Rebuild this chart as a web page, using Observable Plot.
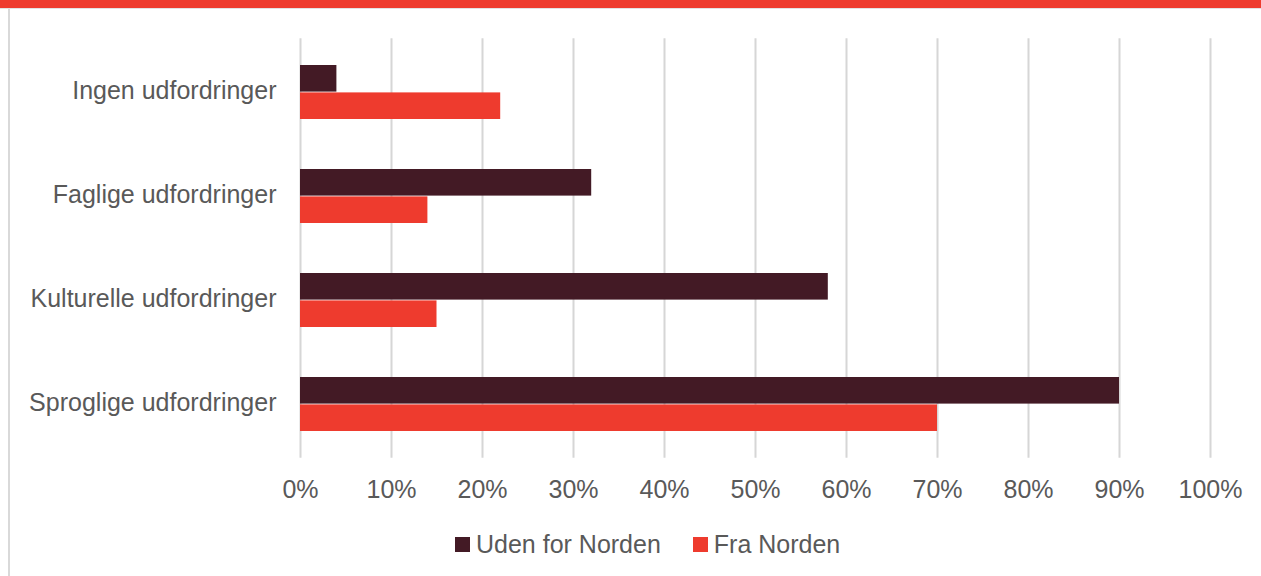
<!DOCTYPE html>
<html>
<head>
<meta charset="utf-8">
<script src="https://cdn.jsdelivr.net/npm/d3@7"></script>
<script src="https://cdn.jsdelivr.net/npm/@observablehq/plot@0.6"></script>
<style>
  html, body { margin: 0; padding: 0; background: #fff; }
  #wrap { position: relative; width: 1261px; height: 576px; overflow: hidden; font-family: "Liberation Sans", Arial, sans-serif; }
  #topbar { position: absolute; left: 0; top: 0; width: 1261px; height: 8px; background: #ee3b2e; }
  #topline { position: absolute; left: 0; top: 8px; width: 1261px; height: 1px; background: #e2e2e2; }
  #leftline { position: absolute; left: 8px; top: 9px; width: 1.5px; height: 570px; background: #d9d9d9; }
  #legend { position: absolute; left: 455px; top: 529px; display: flex; justify-content: flex-start; gap: 32px; color: #595959; font-size: 25px; line-height: 30px; }
  .item { display: flex; align-items: center; gap: 6px; }
  .sw { width: 15px; height: 15px; display: inline-block; }
</style>
</head>
<body>
<div id="wrap"></div>
<script>
const categories = ["Ingen udfordringer", "Faglige udfordringer", "Kulturelle udfordringer", "Sproglige udfordringer"];
const series = ["Uden for Norden", "Fra Norden"];
const udenForNorden = [0.04, 0.32, 0.58, 0.90];
const fraNorden = [0.22, 0.14, 0.15, 0.70];
const colors = ["#431a25", "#ee3b2e"];
const xTicks = [0, 0.1, 0.2, 0.3, 0.4, 0.5, 0.6, 0.7, 0.8, 0.9, 1.0];

const dataUden = categories.map((c, i) => ({category: c, series: series[0], value: udenForNorden[i]}));
const dataFra = categories.map((c, i) => ({category: c, series: series[1], value: fraNorden[i]}));

const chart = Plot.plot({
  width: 1261,
  height: 520,
  marginLeft: 300,
  marginRight: 51,
  marginTop: 38.3,
  marginBottom: 62.2,
  style: {fontFamily: "'Liberation Sans', Arial, sans-serif", fontSize: "25px", color: "#595959", background: "transparent"},
  x: {domain: [0, 1], ticks: xTicks, tickFormat: d => Math.round(d * 100) + "%", tickSize: 0, tickPadding: 22, label: null},
  y: {domain: categories, padding: 0, tickSize: 0, tickPadding: 24, label: null},
  color: {domain: series, range: colors},
  marks: [
    Plot.gridX(xTicks, {stroke: "#d6d6d6", strokeOpacity: 1, strokeWidth: 2}),
    Plot.barX(dataUden, {x: "value", y: "category", fill: "series", insetTop: 25, insetBottom: 52.4}),
    Plot.barX(dataFra, {x: "value", y: "category", fill: "series", insetTop: 52.4, insetBottom: 25}),
    Plot.axisY({tickSize: 0, tickPadding: 24, dy: -1.5, label: null})
  ]
});

const wrap = document.getElementById("wrap");
chart.style.position = "absolute";
chart.style.left = "0px";
chart.style.top = "0px";
wrap.appendChild(chart);

for (const id of ["topbar", "topline", "leftline"]) {
  const d = document.createElement("div");
  d.id = id;
  wrap.appendChild(d);
}

const legend = document.createElement("div");
legend.id = "legend";
series.forEach((s, i) => {
  const item = document.createElement("span");
  item.className = "item";
  const sw = document.createElement("span");
  sw.className = "sw";
  sw.style.background = colors[i];
  const t = document.createElement("span");
  t.textContent = s;
  item.appendChild(sw);
  item.appendChild(t);
  legend.appendChild(item);
});
wrap.appendChild(legend);
</script>
</body>
</html>
